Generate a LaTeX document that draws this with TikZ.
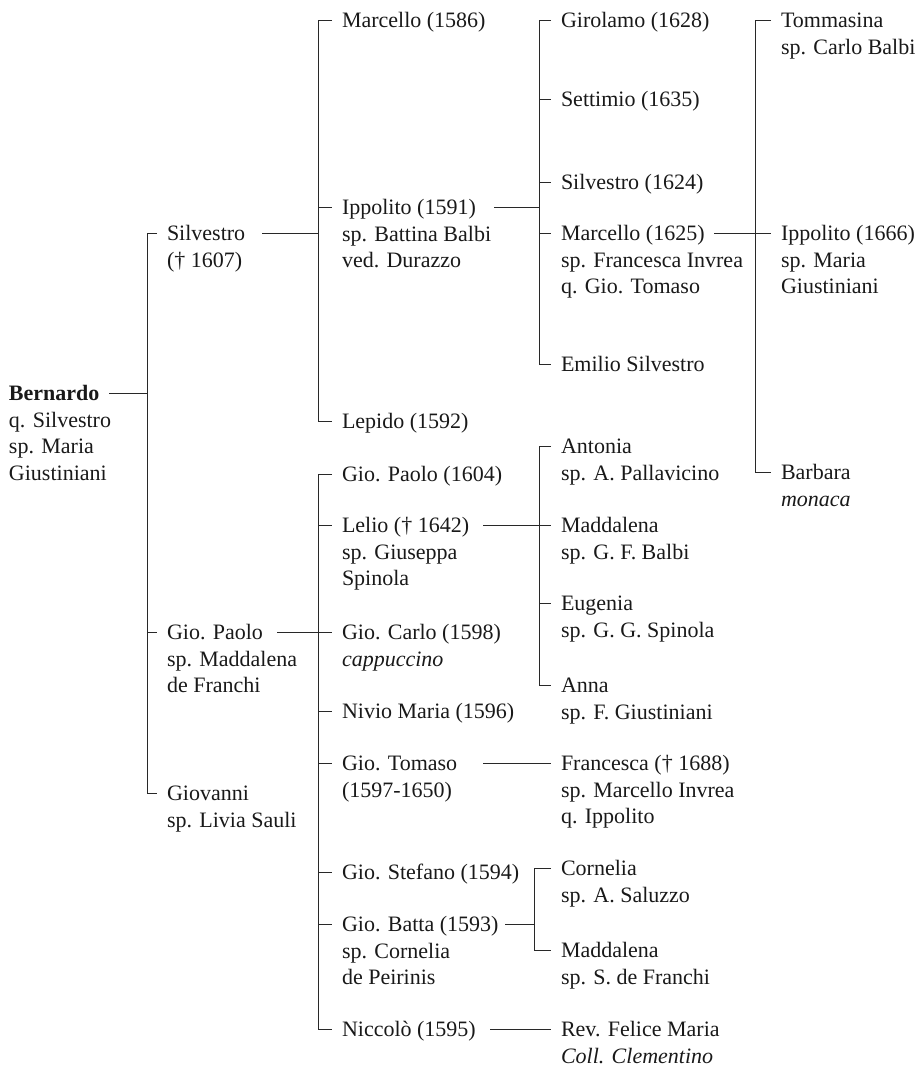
\documentclass[tikz,border=0pt]{standalone}
\usepackage{fontspec}
\setmainfont{Liberation Serif}
\tikzset{
  person/.style={anchor=north west, inner sep=0pt, outer sep=0pt, align=left,
    font=\fontsize{22}{26.5}\selectfont, text={rgb,255:red,25;green,25;blue,25}},
  link/.style={draw={rgb,255:red,40;green,40;blue,40}, line width=0.9pt}
}
\newcommand\pers[4]{%
  \node[person] (#1) at (#2,{#3-11.05}) {\strut #4};
  \coordinate (#1-in) at ({#2-10},#3);}
\begin{document}
\begin{tikzpicture}[x=1pt,y=-1pt]
\useasboundingbox (0,0) rectangle (920,1066);
% level 0
\pers{bern}{9}{393}{\textbf{Bernardo}\\q. Silvestro\\sp. Maria\\Giustiniani}
% level 1
\pers{sil}{167}{233}{Silvestro\\(† 1607)}
\pers{gp}{167}{632}{Gio. Paolo\\sp. Maddalena\\de Franchi}
\pers{giov}{167}{793}{Giovanni\\sp. Livia Sauli}
% level 2
\pers{marc}{342}{20}{Marcello (1586)}
\pers{ipp}{342}{207}{Ippolito (1591)\\sp. Battina Balbi\\ved. Durazzo}
\pers{lep}{342}{421}{Lepido (1592)}
\pers{gpao}{342}{474}{Gio. Paolo (1604)}
\pers{lel}{342}{525}{Lelio († 1642)\\sp. Giuseppa\\Spinola}
\pers{gcar}{342}{632}{Gio. Carlo (1598)\\\textit{cappuccino}}
\pers{niv}{342}{711}{Nivio Maria (1596)}
\pers{gtom}{342}{763}{Gio. Tomaso\\(1597-1650)}
\pers{gste}{342}{872}{Gio. Stefano (1594)}
\pers{gbat}{342}{924}{Gio. Batta (1593)\\sp. Cornelia\\de Peirinis}
\pers{nic}{342}{1029}{Niccolò (1595)}
% level 3
\pers{gir}{561}{20}{Girolamo (1628)}
\pers{sett}{561}{99}{Settimio (1635)}
\pers{silv}{561}{182}{Silvestro (1624)}
\pers{marcb}{561}{233}{Marcello (1625)\\sp. Francesca Invrea\\q. Gio. Tomaso}
\pers{emi}{561}{364}{Emilio Silvestro}
\pers{ant}{561}{446}{Antonia\\sp. A. Pallavicino}
\pers{madd}{561}{525}{Maddalena\\sp. G. F. Balbi}
\pers{eug}{561}{603}{Eugenia\\sp. G. G. Spinola}
\pers{anna}{561}{685}{Anna\\sp. F. Giustiniani}
\pers{fran}{561}{763}{Francesca († 1688)\\sp. Marcello Invrea\\q. Ippolito}
\pers{corn}{561}{868}{Cornelia\\sp. A. Saluzzo}
\pers{maddb}{561}{950}{Maddalena\\sp. S. de Franchi}
\pers{rev}{561}{1029}{Rev. Felice Maria\\\textit{Coll. Clementino}}
% level 4
\pers{tom}{781}{20}{Tommasina\\sp. Carlo Balbi}
\pers{ippb}{781}{233}{Ippolito (1666)\\sp. Maria\\Giustiniani}
\pers{barb}{781}{472}{Barbara\\\textit{monaca}}
% outgoing connector starts
\coordinate (bern-out) at (109,393);
\coordinate (sil-out) at (262,233);
\coordinate (gp-out) at (277,632);
\coordinate (ipp-out) at (494,207);
\coordinate (marcb-out) at (714,233);
\coordinate (lel-out) at (483,525);
\coordinate (gtom-out) at (483,763);
\coordinate (gbat-out) at (505,924);
\coordinate (nic-out) at (490,1029);
% bracket columns
\coordinate (b1) at (147,0);
\coordinate (b2) at (318,0);
\coordinate (b4) at (539,0);
\coordinate (b5) at (755,0);
\coordinate (b7) at (534,0);
% Bernardo's children
\draw[link] (bern-out) -- (bern-out -| b1);
\draw[link] (sil-in) -- (sil-in -| b1) -- (giov-in -| b1) -- (giov-in);
\draw[link] (gp-in -| b1) -- (gp-in);
% Silvestro's children
\draw[link] (sil-out) -- (sil-out -| b2);
\draw[link] (marc-in) -- (marc-in -| b2) -- (lep-in -| b2) -- (lep-in);
\draw[link] (ipp-in -| b2) -- (ipp-in);
% Gio. Paolo's children
\draw[link] (gp-out) -- (gp-out -| b2);
\draw[link] (gpao-in) -- (gpao-in -| b2) -- (nic-in -| b2) -- (nic-in);
\foreach \c in {lel,gcar,niv,gtom,gste,gbat}
  \draw[link] (\c-in -| b2) -- (\c-in);
% Ippolito (1591)'s children
\draw[link] (ipp-out) -- (ipp-out -| b4);
\draw[link] (gir-in) -- (gir-in -| b4) -- (emi-in -| b4) -- (emi-in);
\foreach \c in {sett,silv,marcb}
  \draw[link] (\c-in -| b4) -- (\c-in);
% Marcello (1625)'s children
\draw[link] (marcb-out) -- (ippb-in);
\draw[link] (tom-in) -- (tom-in -| b5) -- (barb-in -| b5) -- (barb-in);
% Lelio's children
\draw[link] (lel-out) -- (madd-in);
\draw[link] (ant-in) -- (ant-in -| b4) -- (anna-in -| b4) -- (anna-in);
\draw[link] (eug-in -| b4) -- (eug-in);
% Gio. Tomaso
\draw[link] (gtom-out) -- (fran-in);
% Gio. Batta's children
\draw[link] (gbat-out) -- (gbat-out -| b7);
\draw[link] (corn-in) -- (corn-in -| b7) -- (maddb-in -| b7) -- (maddb-in);
% Niccolo
\draw[link] (nic-out) -- (rev-in);
\end{tikzpicture}
\end{document}
